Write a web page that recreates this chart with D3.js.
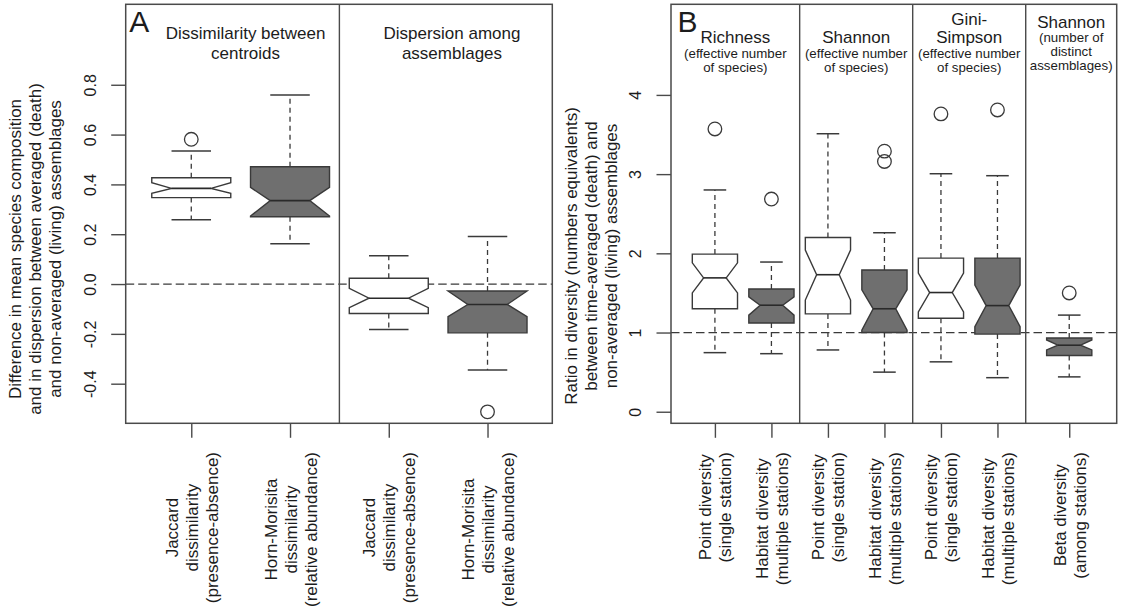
<!DOCTYPE html>
<html>
<head>
<meta charset="utf-8">
<script src="https://cdn.jsdelivr.net/npm/d3@7"></script>
<style>
  html, body { margin: 0; padding: 0; background: #fff; }
  svg { display: block; font-family: "Liberation Sans", Arial, Helvetica, sans-serif; }
</style>
</head>
<body>
<svg id="chart" width="1125" height="613"></svg>
<script>
// ---------- Panel A: composition differences (death minus living) ----------
const aCategories = [
  ["Jaccard", "dissimilarity", "(presence-absence)"],
  ["Horn-Morisita", "dissimilarity", "(relative abundance)"],
  ["Jaccard", "dissimilarity", "(presence-absence)"],
  ["Horn-Morisita", "dissimilarity", "(relative abundance)"]
];
const aKind = ["incidence", "abundance", "incidence", "abundance"];
const aGroupTitles = [["Dissimilarity between", "centroids"], ["Dispersion among", "assemblages"]];
const aLow     = [0.258, 0.162, -0.182, -0.345];
const aQ1      = [0.347, 0.270, -0.118, -0.196];
const aNotchLo = [0.364, 0.273, -0.095, -0.131];
const aMedian  = [0.384, 0.335, -0.057, -0.082];
const aNotchHi = [0.407, 0.388, -0.017, -0.028];
const aQ3      = [0.427, 0.471, 0.023, -0.028];
const aHigh    = [0.534, 0.759, 0.114, 0.191];
const aOutliers = [[0.581], [], [], [-0.513]];
const aTicks = [-0.4, -0.2, 0, 0.2, 0.4, 0.6, 0.8];
const aReference = 0;
const aAxisTitle = [
  "Difference in mean species composition",
  "and in dispersion between averaged (death)",
  "and non-averaged (living) assemblages"
];

// ---------- Panel B: diversity ratios (time-averaged / non-averaged) ----------
const bCategories = [
  ["Point diversity", "(single station)"],
  ["Habitat diversity", "(multiple stations)"],
  ["Point diversity", "(single station)"],
  ["Habitat diversity", "(multiple stations)"],
  ["Point diversity", "(single station)"],
  ["Habitat diversity", "(multiple stations)"],
  ["Beta diversity", "(among stations)"]
];
const bKind = ["point", "habitat", "point", "habitat", "point", "habitat", "beta"];
const bGroupTitles = [["Richness"], ["Shannon"], ["Gini-", "Simpson"], ["Shannon"]];
const bGroupNotes = [
  ["(effective number", "of species)"],
  ["(effective number", "of species)"],
  ["(effective number", "of species)"],
  ["(number of", "distinct", "assemblages)"]
];
const bLow     = [0.746, 0.733, 0.78, 0.50, 0.63, 0.43, 0.44];
const bQ1      = [1.30, 1.12, 1.235, 1.00, 1.18, 0.98, 0.71];
const bNotchLo = [1.50, 1.22, 1.41, 1.03, 1.26, 1.075, 0.78];
const bMedian  = [1.69, 1.345, 1.73, 1.30, 1.505, 1.34, 0.84];
const bNotchHi = [1.88, 1.45, 2.04, 1.54, 1.75, 1.60, 0.906];
const bQ3      = [1.99, 1.55, 2.20, 1.79, 1.94, 1.94, 0.93];
const bHigh    = [2.80, 1.89, 3.51, 2.26, 3.005, 2.98, 1.22];
const bOutliers = [[3.57], [2.685], [], [3.29, 3.16], [3.76], [3.81], [1.50]];
const bTicks = [0, 1, 2, 3, 4];
const bReference = 1;
const bAxisTitle = [
  "Ratio in diversity (numbers equivalents)",
  "between time-averaged (death) and",
  "non-averaged (living) assemblages"
];

// ---------- drawing ----------
const svg = d3.select("#chart");
const INK = "#1c1c1c";
const LINE = "#3a3a3a";
const FRAME = "#4a4a4a";
const GREY_FILL = "#6f6f6f";
const plotTop = 4.3, plotBottom = 423.3;

function buildStats(low, q1, nlo, med, nhi, q3, high, out, kind) {
  return low.map((_, i) => ({
    low: low[i], q1: q1[i], nlo: nlo[i], med: med[i], nhi: nhi[i],
    q3: q3[i], high: high[i], out: out[i], kind: kind[i]
  }));
}

function drawPanel(cfg) {
  const g = svg.append("g");
  const x = cfg.x, y = cfg.y;
  const [x0, x1] = x.range();

  // reference line
  g.append("line")
    .attr("x1", x0).attr("x2", x1)
    .attr("y1", y(cfg.reference)).attr("y2", y(cfg.reference))
    .attr("stroke", LINE).attr("stroke-width", 1.3)
    .attr("stroke-dasharray", "8.5,4");

  const halfW = (x(1) - x(0)) * 0.4;
  const nf = 0.5;

  cfg.stats.forEach((s, i) => {
    const cx = x(cfg.slots[i]);
    const fill = s.kind === cfg.whiteKind ? "#ffffff" : GREY_FILL;
    const bg = g.append("g");

    // whiskers (dashed) and staples
    [[s.q3, s.high], [s.q1, s.low]].forEach(([a, b]) => {
      bg.append("line")
        .attr("x1", cx).attr("x2", cx).attr("y1", y(a)).attr("y2", y(b))
        .attr("stroke", LINE).attr("stroke-width", 1.3)
        .attr("stroke-dasharray", "5,4");
      bg.append("line")
        .attr("x1", cx - halfW * 0.5).attr("x2", cx + halfW * 0.5)
        .attr("y1", y(b)).attr("y2", y(b))
        .attr("stroke", LINE).attr("stroke-width", 1.5);
    });

    // notched box
    const pts = [
      [cx - halfW, y(s.q1)], [cx + halfW, y(s.q1)], [cx + halfW, y(s.nlo)],
      [cx + halfW * nf, y(s.med)], [cx + halfW, y(s.nhi)], [cx + halfW, y(s.q3)],
      [cx - halfW, y(s.q3)], [cx - halfW, y(s.nhi)], [cx - halfW * nf, y(s.med)],
      [cx - halfW, y(s.nlo)]
    ];
    bg.append("path")
      .attr("d", d3.line()(pts) + "Z")
      .attr("fill", fill).attr("stroke", LINE).attr("stroke-width", 1.4)
      .attr("stroke-linejoin", "miter");

    // median
    bg.append("line")
      .attr("x1", cx - halfW * nf).attr("x2", cx + halfW * nf)
      .attr("y1", y(s.med)).attr("y2", y(s.med))
      .attr("stroke", "#2a2a2a").attr("stroke-width", 1.6);

    // outliers
    bg.selectAll("circle.out").data(s.out).join("circle")
      .attr("class", "out")
      .attr("cx", cx).attr("cy", d => y(d)).attr("r", 6.8)
      .attr("fill", "none").attr("stroke", LINE).attr("stroke-width", 1.3);
  });

  // frame and dividers
  g.append("rect")
    .attr("x", x0).attr("y", plotTop)
    .attr("width", x1 - x0).attr("height", plotBottom - plotTop)
    .attr("fill", "none").attr("stroke", FRAME).attr("stroke-width", 1.5);
  cfg.dividers.forEach(d => {
    g.append("line")
      .attr("x1", x(d)).attr("x2", x(d))
      .attr("y1", plotTop).attr("y2", plotBottom)
      .attr("stroke", FRAME).attr("stroke-width", 1.4);
  });

  // left axis with rotated labels
  const yAxis = d3.axisLeft(y).tickValues(cfg.ticks).tickSize(14.5).tickFormat(cfg.tickFormat);
  const ya = g.append("g").attr("transform", `translate(${x0},0)`).call(yAxis);
  ya.select(".domain").remove();
  ya.selectAll(".tick line").attr("stroke", FRAME).attr("stroke-width", 1.4);
  ya.selectAll(".tick text")
    .attr("x", 0).attr("y", -30).attr("dy", null)
    .attr("text-anchor", "middle").attr("transform", "rotate(-90)")
    .attr("fill", INK).attr("font-size", 16)
    .attr("font-family", "Liberation Sans, Arial, sans-serif");

  // bottom ticks
  const xAxis = d3.axisBottom(x).tickValues(cfg.slots).tickSize(14.5).tickFormat("");
  const xa = g.append("g").attr("transform", `translate(0,${plotBottom})`).call(xAxis);
  xa.select(".domain").remove();
  xa.selectAll(".tick line").attr("stroke", FRAME).attr("stroke-width", 1.4);

  // category labels, rotated, centred per line, block starting at a common top
  cfg.categories.forEach((lines, i) => {
    const cx = x(cfg.slots[i]);
    const lg = g.append("g");
    const n = lines.length;
    const texts = lines.map((t, j) =>
      lg.append("text")
        .attr("x", 0).attr("y", (j - (n - 1) / 2) * 20 + 1)
        .attr("dominant-baseline", "central")
        .attr("text-anchor", "middle")
        .attr("font-size", 17).attr("fill", INK)
        .text(t));
    const maxLen = d3.max(texts, t => t.node().getComputedTextLength());
    lg.attr("transform", `translate(${cx},${452 + maxLen / 2}) rotate(-90)`);
  });

  // axis title
  const tg = g.append("g").attr("transform", `translate(${cfg.titleX},${cfg.titleY}) rotate(-90)`);
  cfg.title.forEach((t, j) => {
    tg.append("text")
      .attr("x", 0).attr("y", (j - 1) * 20)
      .attr("dominant-baseline", "central")
      .attr("text-anchor", "middle")
      .attr("font-size", 17).attr("fill", INK)
      .text(t);
  });

  // panel letter
  g.append("text")
    .attr("x", x0 + cfg.letterDx).attr("y", 31.7)
    .attr("font-size", 30).attr("fill", INK)
    .text(cfg.letter);
  return g;
}

// ---- Panel A ----
const xA = d3.scaleLinear().domain([0.336, 4.656]).range([125.7, 552.3]);
const yA = d3.scaleLinear().domain([-0.559, 1.123]).range([plotBottom, plotTop]);
const gA = drawPanel({
  x: xA, y: yA,
  slots: [1, 2, 3, 4],
  dividers: [2.5],
  stats: buildStats(aLow, aQ1, aNotchLo, aMedian, aNotchHi, aQ3, aHigh, aOutliers, aKind),
  whiteKind: "incidence",
  reference: aReference,
  ticks: aTicks,
  tickFormat: d => d3.format(".1f")(d).replace("\u2212", "-"),
  categories: aCategories,
  title: aAxisTitle, titleX: 35, titleY: 249,
  letter: "A", letterDx: 3.5
});
const aHeaderSlots = [1.55, 3.64];
aGroupTitles.forEach((lines, i) => {
  lines.forEach((t, j) => {
    gA.append("text")
      .attr("x", xA(aHeaderSlots[i])).attr("y", 39 + j * 20)
      .attr("text-anchor", "middle").attr("font-size", 17).attr("fill", INK)
      .text(t);
  });
});

// ---- Panel B ----
const xB = d3.scaleLinear().domain([0.223, 8.11]).range([671, 1116.7]);
const yB = d3.scaleLinear().domain([-0.146, 5.144]).range([plotBottom, plotTop]);
const gB = drawPanel({
  x: xB, y: yB,
  slots: [1, 2, 3, 4, 5, 6, 7.27],
  dividers: [2.5, 4.5, 6.5],
  stats: buildStats(bLow, bQ1, bNotchLo, bMedian, bNotchHi, bQ3, bHigh, bOutliers, bKind),
  whiteKind: "point",
  reference: bReference,
  ticks: bTicks,
  tickFormat: d3.format("d"),
  categories: bCategories,
  title: bAxisTitle, titleX: 591, titleY: 256,
  letter: "B", letterDx: 6.5
});
const bBounds = [0.223, 2.5, 4.5, 6.5, 8.11];
bGroupTitles.forEach((titles, i) => {
  const cx = xB((bBounds[i] + bBounds[i + 1]) / 2);
  const notes = bGroupNotes[i];
  const titleLast = notes.length > 2 ? 27.5 : 43;
  titles.forEach((t, j) => {
    gB.append("text")
      .attr("x", cx).attr("y", titleLast - (titles.length - 1 - j) * 18)
      .attr("text-anchor", "middle").attr("font-size", 17).attr("fill", INK)
      .text(t);
  });
  notes.forEach((t, j) => {
    gB.append("text")
      .attr("x", cx).attr("y", titleLast + 14.5 + j * 14)
      .attr("text-anchor", "middle").attr("font-size", 13.3).attr("fill", INK)
      .text(t);
  });
});
</script>
</body>
</html>
